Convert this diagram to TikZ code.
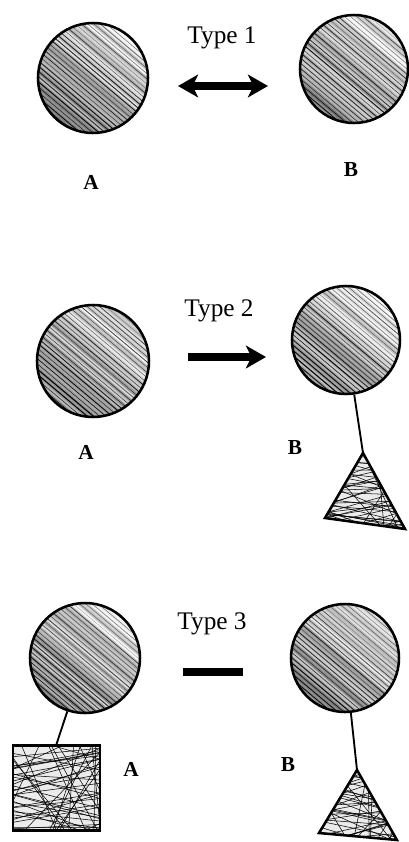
\documentclass[tikz,border=0pt]{standalone}
\usepackage{fontspec}
\setmainfont{Liberation Serif}
\usetikzlibrary{arrows.meta}
\newcommand\hatchball{%
 \begin{scope}[shift={(path picture bounding box.center)}]
 \foreach \hd in {-66,-62,...,66} {
   \pgfmathsetmacro\hT{(\hd+66)/132}
   \pgfmathsetmacro\hG{max(3,min(60, 48-45*\hT + 15*rand))}
   \pgfmathsetmacro\hW{0.2+0.7*rnd*(1-0.5*\hT)}
   \pgfmathsetmacro\hO{max(0.35,min(1,1.05-0.6*\hT+0.2*rand))}
   \pgfmathsetmacro\xa{\hd*0.643-90*0.766}
   \pgfmathsetmacro\ya{-\hd*0.766-90*0.643}
   \pgfmathsetmacro\xb{\hd*0.643+90*0.766}
   \pgfmathsetmacro\yb{-\hd*0.766+90*0.643}
   \draw[line width=3pt, black!\hG] (\xa,\ya) -- (\xb,\yb);
   \draw[line width=\hW pt, black, opacity=\hO] (\xa,\ya) -- (\xb,\yb);
 }
 \end{scope}}
\newcommand\scribble{%
 \begin{scope}[shift={(path picture bounding box.center)}]
  \fill[black!8] (-70,-70) rectangle (70,70);
  \foreach \k in {1,...,50} {
    \pgfmathsetmacro\px{rand*45}
    \pgfmathsetmacro\py{rand*45}
    \pgfmathsetmacro\ang{rnd<0.75 ? rand*25 : 45+rnd*90}
    \pgfmathsetmacro\xa{\px-130*cos(\ang)}
    \pgfmathsetmacro\ya{\py-130*sin(\ang)}
    \pgfmathsetmacro\xb{\px+130*cos(\ang)}
    \pgfmathsetmacro\yb{\py+130*sin(\ang)}
    \draw[line width=0.4pt, black] (\xa,\ya) -- (\xb,\yb);
  }
 \end{scope}}
\begin{document}
\begin{tikzpicture}[x=0.75pt,y=-0.75pt,
  ball/.style={circle, draw, line width=1.9pt, inner sep=0pt, minimum size=#1, path picture={\hatchball}},
  scrib/.style={draw, line width=1.9pt, path picture={\scribble}},
  conn/.style={line width=1.4pt},
  typelab/.style={font=\fontsize{19}{22}\selectfont},
  lab/.style={font=\fontsize{16}{19}\selectfont\bfseries},
  bigarrow/.style={line width=5.5pt, -{Stealth[length=15pt,width=17pt,inset=4pt]}},
  dblarrow/.style={line width=5.5pt, {Stealth[length=15pt,width=17pt,inset=4pt]}-{Stealth[length=15pt,width=17pt,inset=4pt]}}]
\pgfmathsetseed{7}
\useasboundingbox (0,0) rectangle (408,842);

% Type 1
\node[ball=82.5pt] (cA1) at (93,78) {};
\node[ball=81pt] (cB1) at (354,69) {};
\node[typelab] (ty1) at (222,38) {Type 1};
\coordinate (a1s) at (178,86);
\coordinate (a1e) at (268,86);
\draw[dblarrow] (a1s) -- (a1e);
\node[lab] (lA1) at (91,182) {A};
\node[lab] (lB1) at (351,170) {B};

% Type 2
\node[ball=84pt] (cA2) at (93,361) {};
\node[ball=81pt] (cB2) at (346,340) {};
\node[typelab] (ty2) at (219,311) {Type 2};
\coordinate (a2s) at (188,357);
\coordinate (a2e) at (266,357);
\draw[bigarrow] (a2s) -- (a2e);
\node[lab] (lA2) at (86,452) {A};
\node[lab] (lB2) at (295,448) {B};
\coordinate (t2a) at (363,453);
\coordinate (t2l) at (325,518);
\coordinate (t2r) at (405,529);
\draw[scrib] (t2a) -- (t2l) -- (t2r) -- cycle;
\draw[conn] (cB2) -- (t2a);

% Type 3
\node[ball=82.5pt] (cA3) at (85,658) {};
\node[ball=81pt] (cB3) at (345,658) {};
\node[typelab] (ty3) at (212,624) {Type 3};
\coordinate (bs) at (183,672);
\coordinate (be) at (243,672);
\draw[line width=6pt] (bs) -- (be);
\node[scrib, minimum width=65pt, minimum height=64pt, inner sep=0pt] (sqA) at (56.5,788) {};
\draw[conn] (cA3) -- (sqA.north);
\node[lab] (lA3) at (131,769) {A};
\node[lab] (lB3) at (288,765) {B};
\coordinate (t3a) at (357,770);
\coordinate (t3l) at (319,833);
\coordinate (t3r) at (397,840);
\draw[scrib] (t3a) -- (t3l) -- (t3r) -- cycle;
\draw[conn] (cB3) -- (t3a);
\end{tikzpicture}
\end{document}
